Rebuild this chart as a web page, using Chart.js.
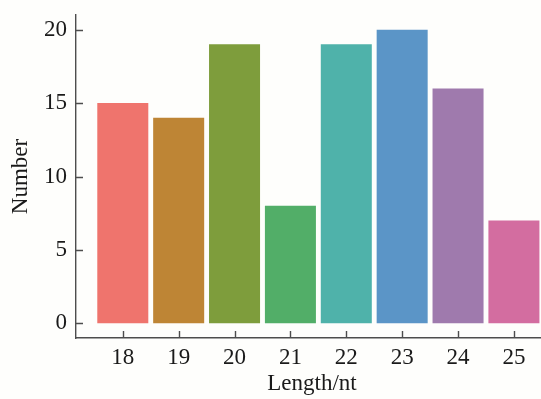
<!DOCTYPE html>
<html><head><meta charset="utf-8">
<script src="https://cdn.jsdelivr.net/npm/chart.js@4/dist/chart.umd.min.js"></script>
<style>
html,body{margin:0;padding:0;overflow:hidden;background:#fefefc;width:541px;height:399px}
#wrap{position:absolute;left:0;top:0;width:548px;height:399px}
</style>
</head><body><div id="wrap"><canvas id="c" width="548" height="399"></canvas></div>
<script>
const lengths = [18, 19, 20, 21, 22, 23, 24, 25];
const counts = [15, 14, 19, 8, 19, 20, 16, 7];
const xTickLabels = ['18', '19', '20', '21', '22', '23', '24', '25'];
const yTickValues = [0, 5, 10, 15, 20];
const barColors = ['#EF746D', '#BE8535', '#7E9D3C', '#52AE68', '#4FB2AA', '#5B95C7', '#9F7AAD', '#D36DA0'];

const FONT = '"Liberation Serif", "Times New Roman", serif';
const TEXT = '#1a1a1a';
const AXIS = '#4d4d4d';

const innerTicks = {
  id: 'innerTicks',
  afterDraw(chart) {
    const ctx = chart.ctx, a = chart.chartArea, xs = chart.scales.x, ys = chart.scales.y;
    ctx.save();
    ctx.strokeStyle = AXIS;
    ctx.lineWidth = 1.4;
    ctx.beginPath();
    xs.ticks.forEach(t => { const p = Math.round(xs.getPixelForValue(t.value)) + 0.5; ctx.moveTo(p, a.bottom); ctx.lineTo(p, a.bottom - 7); });
    ys.ticks.forEach(t => { const p = Math.round(ys.getPixelForValue(t.value)) + 0.5; ctx.moveTo(a.left, p); ctx.lineTo(a.left + 7, p); });
    ctx.stroke();
    ctx.restore();
  }
};

new Chart(document.getElementById('c'), {
  type: 'bar',
  data: {
    datasets: [{
      data: lengths.map((l, i) => ({ x: l, y: counts[i] })),
      backgroundColor: barColors,
      borderWidth: 0,
      barPercentage: 0.913,
      categoryPercentage: 1
    }]
  },
  options: {
    responsive: false,
    animation: false,
    devicePixelRatio: 1,
    layout: { padding: { top: 15, left: 0, right: 0, bottom: 0 } },
    plugins: { legend: { display: false }, tooltip: { enabled: false } },
    scales: {
      x: {
        type: 'linear',
        offset: false,
        min: 17.1625,
        max: 25.61,
        afterBuildTicks: s => { s.ticks = lengths.map(v => ({ value: v })); },
        afterFit: s => { s.height = 61; s.paddingLeft = 0; s.paddingRight = 0; },
        grid: { display: false, drawTicks: false, offset: false },
        border: { display: true, color: AXIS, width: 1.4 },
        ticks: {
          padding: 6,
          color: TEXT,
          font: { family: FONT, size: 23 },
          callback: v => xTickLabels[lengths.indexOf(v)],
          maxRotation: 0,
          autoSkip: false
        },
        title: { display: true, text: 'Length/nt', color: TEXT, font: { family: FONT, size: 23 }, padding: { top: 0, bottom: 1 } }
      },
      y: {
        type: 'linear',
        min: -1,
        max: 21,
        afterBuildTicks: s => { s.ticks = yTickValues.map(v => ({ value: v })); },
        afterFit: s => { s.width = 76; s.paddingTop = 0; s.paddingBottom = 0; },
        grid: { display: false, drawTicks: false },
        border: { display: true, color: AXIS, width: 1.4 },
        ticks: {
          padding: 9,
          color: TEXT,
          font: { family: FONT, size: 23 }
        },
        title: { display: true, text: 'Number', color: TEXT, font: { family: FONT, size: 23 }, padding: { top: 7, bottom: 0 } }
      }
    }
  },
  plugins: [innerTicks]
});
</script>
</body></html>
